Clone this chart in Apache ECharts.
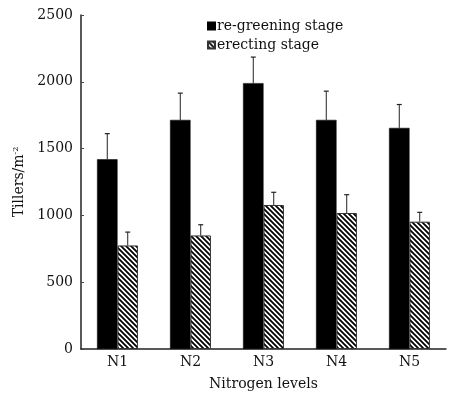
<!DOCTYPE html>
<html><head><meta charset="utf-8">
<script src="https://cdn.jsdelivr.net/npm/echarts@6/dist/echarts.min.js"></script>
<style>html,body{margin:0;padding:0;background:#fff}#c{width:449px;height:396px}</style>
</head><body><div id="c"></div>
<script>
const categories = ['N1','N2','N3','N4','N5'];
const regreening = [1420, 1715, 1990, 1715, 1655];
const regreeningErr = [192, 200, 195, 215, 175];
const erecting = [775, 850, 1078, 1018, 953];
const erectingErr = [100, 80, 95, 137, 70];
const yTicks = [0, 500, 1000, 1500, 2000, 2500];

const FONT = '"DejaVu Serif", "Liberation Serif", serif';
const BARW = 0.28;

function hatch(){
  const c = document.createElement('canvas');
  c.width = 5; c.height = 5;
  const g = c.getContext('2d');
  g.fillStyle = '#fff'; g.fillRect(0,0,5,5);
  g.strokeStyle = '#000'; g.lineWidth = 1.8;
  g.beginPath();
  g.moveTo(-1,-1); g.lineTo(6,6);
  g.moveTo(-1,4); g.lineTo(1,6);
  g.moveTo(4,-1); g.lineTo(6,1);
  g.stroke();
  return c;
}
const hatchFill = {image: hatch(), repeat: 'repeat'};

function errSeries(vals, errs, side){
  return {
    type: 'custom',
    data: vals.map((v,i)=>[i, v, errs[i]]),
    z: 1,
    silent: true,
    renderItem: function(params, api){
      const i = api.value(0), v = api.value(1), e = api.value(2);
      const band = api.size([1,0])[0];
      const off = side * band * BARW / 2;
      const p0 = api.coord([i, v]);
      const p1 = api.coord([i, v + e]);
      const x = p0[0] + off;
      return {type:'group', children:[
        {type:'line', shape:{x1:x, y1:p0[1], x2:x, y2:p1[1]}, style:{stroke:'#222', lineWidth:1}},
        {type:'line', shape:{x1:x-2.5, y1:p1[1], x2:x+2.5, y2:p1[1]}, style:{stroke:'#222', lineWidth:1.2}}
      ]};
    }
  };
}

const chart = echarts.init(document.getElementById('c'), null, {renderer:'canvas'});
chart.setOption({
  animation: false,
  backgroundColor: '#fff',
  grid: {left: 81, right: 3, top: 15, bottom: 44},
  legend: {
    orient: 'vertical', left: 202, top: 14, itemWidth: 7, itemHeight: 7, itemGap: 5,
    textStyle: {fontFamily: FONT, fontSize: 14, color: '#111', padding:[0,0,0,-3]},
    data: [
      {name: 're-greening stage', icon: 'rect'},
      {name: 'erecting stage', icon: 'rect'}
    ]
  },
  xAxis: {
    type: 'category', data: categories,
    name: 'Nitrogen levels', nameLocation: 'middle', nameGap: 28,
    nameTextStyle: {fontFamily: FONT, fontSize: 14, color: '#111'},
    axisLine: {lineStyle: {color: '#222', width: 1.5}},
    axisTick: {inside: true, length: 3, lineStyle:{color:'#444'}},
    axisLabel: {fontFamily: FONT, fontSize: 14, color: '#111', margin: 6}
  },
  yAxis: {
    type: 'value', min: yTicks[0], max: yTicks[yTicks.length-1], interval: 500,
    name: '{a|Tillers/m}{s|-2}', nameLocation: 'middle', nameGap: 51,
    nameTextStyle: {rich: {
      a: {fontFamily: FONT, fontSize: 14, color: '#111'},
      s: {fontFamily: FONT, fontSize: 8, color: '#111', verticalAlign: 'top', padding:[0,0,7,0]}
    }},
    axisLine: {show: true, lineStyle: {color: '#222', width: 1.5}},
    axisTick: {show: true, inside: true, length: 3, lineStyle:{color:'#444'}},
    splitLine: {show: false},
    axisLabel: {fontFamily: FONT, fontSize: 14, color: '#111', margin: 8, formatter: v => String(v)}
  },
  series: [
    {name: 're-greening stage', type: 'bar', data: regreening, barWidth: (BARW*100)+'%', barGap: '0%',
     itemStyle: {color: '#000', borderColor: '#000', borderWidth: 0.5}, z: 2},
    {name: 'erecting stage', type: 'bar', data: erecting, barWidth: (BARW*100)+'%', barGap: '0%',
     itemStyle: {color: hatchFill, borderColor: '#333', borderWidth: 1}, z: 2},
    errSeries(regreening, regreeningErr, -1),
    errSeries(erecting, erectingErr, 1)
  ]
});
</script></body></html>
